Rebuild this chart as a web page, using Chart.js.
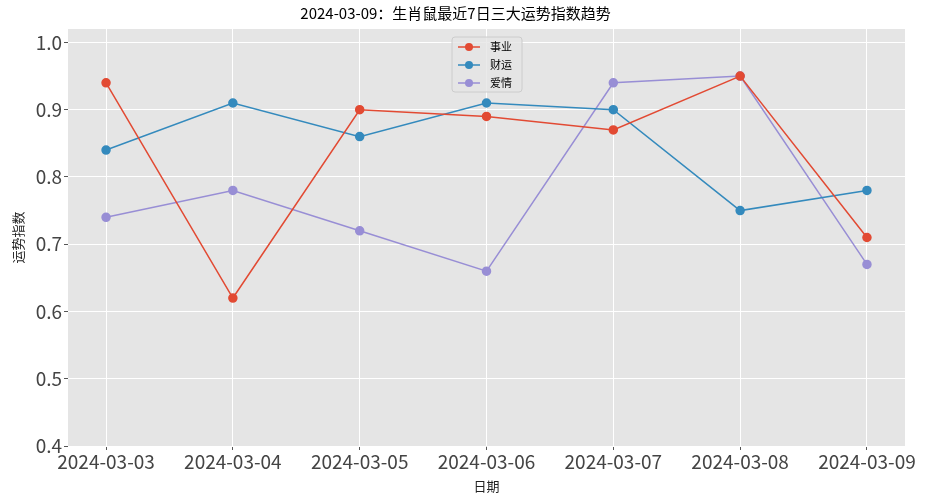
<!DOCTYPE html>
<html><head><meta charset="utf-8">
<script src="https://cdn.jsdelivr.net/npm/chart.js@4"></script>
<style>body{margin:0;background:#fff}canvas{display:block}</style>
</head><body>
<canvas id="c" width="929" height="500"></canvas>
<script>
const dates = ["2024-03-03","2024-03-04","2024-03-05","2024-03-06","2024-03-07","2024-03-08","2024-03-09"];
const career = [0.94, 0.62, 0.90, 0.89, 0.87, 0.95, 0.71];
const wealth = [0.84, 0.91, 0.86, 0.91, 0.90, 0.75, 0.78];
const love = [0.74, 0.78, 0.72, 0.66, 0.94, 0.95, 0.67];
const FONT = "'Noto Sans CJK SC','DejaVu Sans',sans-serif";

function ds(label, vals, color) {
  return {
    label, data: vals.map((v, i) => ({ x: i, y: v })),
    borderColor: color, backgroundColor: color, borderWidth: 1.5,
    pointRadius: 4, pointHoverRadius: 4, tension: 0,
  };
}

// matplotlib-like legend inside the plot
const legendBox = {
  id: "legendBox",
  afterDraw(chart) {
    const ctx = chart.ctx;
    const x = 452, y = 37, w = 70, h = 55;
    ctx.save();
    ctx.fillStyle = "rgba(229,229,229,0.8)";
    ctx.strokeStyle = "#cccccc";
    ctx.lineWidth = 1;
    ctx.beginPath(); ctx.roundRect(x, y, w, h, 3); ctx.fill(); ctx.stroke();
    ctx.font = "11px " + FONT;
    ctx.textBaseline = "middle";
    chart.data.datasets.forEach((d, i) => {
      const yy = y + 10 + i * 18;
      ctx.strokeStyle = d.borderColor; ctx.lineWidth = 1.5;
      ctx.beginPath(); ctx.moveTo(x + 6, yy); ctx.lineTo(x + 28, yy); ctx.stroke();
      ctx.fillStyle = d.borderColor;
      ctx.beginPath(); ctx.arc(x + 17, yy, 4, 0, Math.PI * 2); ctx.fill();
      ctx.fillStyle = "#000";
      ctx.fillText(d.label, x + 38, yy);
    });
    ctx.restore();
  },
};
const bg = {
  id: "bg",
  beforeDraw(chart) {
    const a = chart.chartArea, ctx = chart.ctx;
    ctx.save(); ctx.fillStyle = "#E5E5E5";
    ctx.fillRect(a.left, a.top, a.right - a.left, a.bottom - a.top);
    ctx.restore();
  },
};

new Chart(document.getElementById("c"), {
  type: "line",
  data: { datasets: [ds("事业", career, "#E24A33"), ds("财运", wealth, "#348ABD"), ds("爱情", love, "#988ED5")] },
  options: {
    responsive: false, animation: false,
    layout: { padding: { left: 6, right: 24, top: 0, bottom: 6 } },
    plugins: {
      legend: { display: false }, tooltip: { enabled: false },
      title: { display: true, text: "2024-03-09：生肖鼠最近7日三大运势指数趋势", color: "#000",
        font: { family: FONT, size: 15, weight: "normal" }, padding: { top: 4, bottom: 7 } },
    },
    scales: {
      x: {
        type: "linear", min: -0.3, max: 6.3,
        afterBuildTicks(s) { s.ticks = dates.map((_, i) => ({ value: i })); },
        afterFit(s) { s.height = 48; },
        ticks: { callback: v => dates[v], color: "#444", font: { family: FONT, size: 19 }, padding: 0, maxRotation: 0 },
        grid: { color: "#fff", lineWidth: 1, drawTicks: true, tickLength: 4, tickColor: "#555" },
        border: { display: false },
        title: { display: true, text: "日期", color: "#222", font: { family: FONT, size: 13 }, padding: 0 },
      },
      y: {
        min: 0.4, max: 1.02,
        afterBuildTicks(s) { s.ticks = [0.4,0.5,0.6,0.7,0.8,0.9,1.0].map(v => ({ value: v })); },
        afterFit(s) { s.width = 62; },
        ticks: { callback: v => v.toFixed(1), color: "#444", font: { family: FONT, size: 19 }, padding: 2 },
        grid: { color: "#fff", lineWidth: 1, tickLength: 4, tickColor: "#555" },
        border: { display: false },
        title: { display: true, text: "运势指数", color: "#222", font: { family: FONT, size: 13 }, padding: 4 },
      },
    },
  },
  plugins: [bg, legendBox],
});
</script>
</body></html>
